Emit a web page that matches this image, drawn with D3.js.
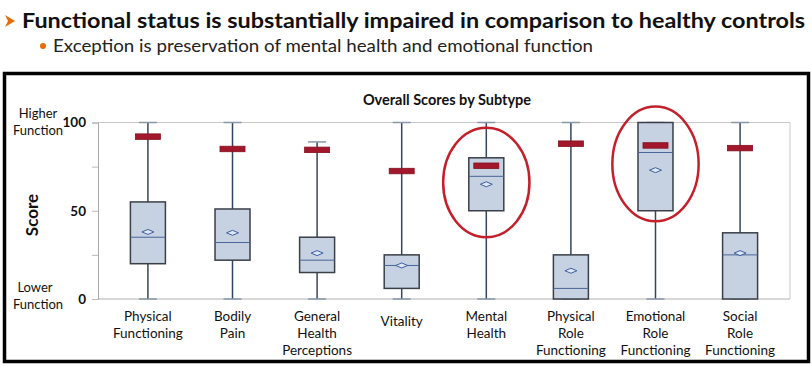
<!DOCTYPE html>
<html><head><meta charset="utf-8">
<script src="https://cdn.jsdelivr.net/npm/d3@7"></script>
<style>
body{margin:0;background:#fff;}
svg{display:block;font-family:Lato,"Open Sans",sans-serif;}
</style></head>
<body><svg id="c" width="812" height="367"></svg>
<script>
// ---- data ----
const categories = ["Physical Functioning","Bodily Pain","General Health Perceptions","Vitality","Mental Health","Physical Role Functioning","Emotional Role Functioning","Social Role Functioning"];
const labelLines = [["Physical","Functioning"],["Bodily","Pain"],["General","Health","Perceptions"],["Vitality"],["Mental","Health"],["Physical","Role","Functioning"],["Emotional","Role","Functioning"],["Social","Role","Functioning"]];
const whiskerMin = [0,0,0,0,0,0,0,0];
const whiskerMax = [100,100,89,100,100,100,100,100];
const q1 = [20,22,15,6,50,0,50,0];
const q3 = [55,51,35,25,80,25,100,37.5];
const median = [35,32,22,19,69.5,6,83,25];
const mean = [38,37.5,26,19,65,16,73,26];
const controls = [92,85,84.5,72.5,75.5,88,87,85.5];
const yTicks = [0,50,100];
const yMinorTicks = [25,75];
const highlighted = ["Mental Health","Emotional Role Functioning"];
const highlightTop = [97,109];
const highlightBottom = [35,44];

const svg = d3.select("#c");

// header
svg.append("path").attr("d","M5,15 L15,21 L5,27 L8,21 Z").attr("fill","#e46c0a");
svg.append("text").attr("x",22).attr("y",28).attr("font-size",21).attr("font-weight",700)
  .attr("fill","#111").attr("textLength",783).attr("lengthAdjust","spacingAndGlyphs")
  .text("Functional status is substantially impaired in comparison to healthy controls");
svg.append("circle").attr("cx",43).attr("cy",46).attr("r",3).attr("fill","#e46c0a");
svg.append("text").attr("x",53).attr("y",52).attr("font-size",17).attr("fill","#222")
  .attr("textLength",540).attr("lengthAdjust","spacingAndGlyphs")
  .text("Exception is preservation of mental health and emotional function");

// frame
svg.append("rect").attr("x",4.5).attr("y",73.5).attr("width",804).attr("height",288)
  .attr("fill","none").attr("stroke","#000").attr("stroke-width",3.5);

const plotL = 98, plotR = 790, plotT = 122.5, plotB = 299;
const x = d3.scalePoint().domain(categories).range([plotL, plotR]).padding(0.59);
const y = d3.scaleLinear().domain([0,100]).range([plotB, plotT]);

svg.append("text").attr("x",447).attr("y",105).attr("text-anchor","middle")
  .attr("font-size",14.5).attr("font-weight",700).attr("fill","#111").text("Overall Scores by Subtype");

// plot frame
svg.append("line").attr("x1",plotL).attr("x2",plotR).attr("y1",plotT).attr("y2",plotT).attr("stroke","#c8c8c8");
svg.append("line").attr("x1",plotR).attr("x2",plotR).attr("y1",plotT).attr("y2",plotB).attr("stroke","#c8c8c8");
svg.append("line").attr("x1",plotL).attr("x2",plotR).attr("y1",plotB).attr("y2",plotB).attr("stroke","#b0b0b0");

// y axis
const yAxis = d3.axisLeft(y).tickValues(yTicks.concat(yMinorTicks)).tickSize(6).tickFormat(d => yTicks.includes(d) ? d : "");
const ga = svg.append("g").attr("transform",`translate(${plotL},0)`).call(yAxis);
ga.select(".domain").attr("stroke","#aaa");
ga.selectAll(".tick line").attr("stroke","#bbb");
ga.selectAll(".tick text").attr("font-size",13.5).attr("font-weight",700).attr("fill","#111")
  .attr("font-family","Lato, sans-serif").attr("x",-12);

svg.append("text").attr("transform","translate(38,215) rotate(-90)").attr("text-anchor","middle")
  .attr("font-size",17).attr("font-weight",700).attr("fill","#111").text("Score");
const side = (txt, cx, cy) => svg.append("text").attr("x",cx).attr("y",cy).attr("text-anchor","middle")
  .attr("font-size",13).attr("fill","#111").text(txt);
side("Higher",38,118); side("Function",38,135);
side("Lower",35,292); side("Function",38,309);

// boxes
const bw = 35;
const g = svg.append("g");
categories.forEach((c,i) => {
  const cx = x(c);
  g.append("line").attr("x1",cx).attr("x2",cx).attr("y1",y(whiskerMin[i])).attr("y2",y(whiskerMax[i]))
    .attr("stroke","#34455f").attr("stroke-width",1.5);
  [whiskerMin[i], whiskerMax[i]].forEach(v => g.append("line").attr("x1",cx-9).attr("x2",cx+9)
    .attr("y1",y(v)).attr("y2",y(v)).attr("stroke","#8a96a8").attr("stroke-width",1.5));
  g.append("rect").attr("x",cx-bw/2).attr("y",y(q3[i])).attr("width",bw).attr("height",y(q1[i])-y(q3[i]))
    .attr("fill","#c6d1e2").attr("stroke","#3a3f48").attr("stroke-width",1.5);
  g.append("line").attr("x1",cx-bw/2).attr("x2",cx+bw/2).attr("y1",y(median[i])).attr("y2",y(median[i]))
    .attr("stroke","#4a6597").attr("stroke-width",1);
  const my = y(mean[i]);
  g.append("path").attr("d",`M${cx-6},${my} L${cx},${my-2.5} L${cx+6},${my} L${cx},${my+2.5} Z`)
    .attr("fill","#dfe7f3").attr("stroke","#3f5fa0").attr("stroke-width",1);
  g.append("rect").attr("x",cx-12.5).attr("y",y(controls[i])-2.75).attr("width",25).attr("height",5.5)
    .attr("fill","#a3172c").attr("stroke","#84101f").attr("stroke-width",0.8);
});

// x labels
categories.forEach((c,i) => {
  const lines = labelLines[i];
  const t = svg.append("text").attr("text-anchor","middle").attr("font-size",13.5).attr("fill","#111");
  lines.forEach((l,j) => t.append("tspan").attr("x",x(c)).attr("y",(lines.length===1?326:321)+j*17).text(l));
});

// highlight ellipses
const step = x.step();
highlighted.forEach((c,i) => {
  const yt = y(highlightTop[i]), yb = y(highlightBottom[i]);
  svg.append("ellipse").attr("cx",x(c)).attr("cy",(yt+yb)/2).attr("rx",step*0.51).attr("ry",(yb-yt)/2)
    .attr("fill","none").attr("stroke","#c4202c").attr("stroke-width",2.5);
});
</script></body></html>
